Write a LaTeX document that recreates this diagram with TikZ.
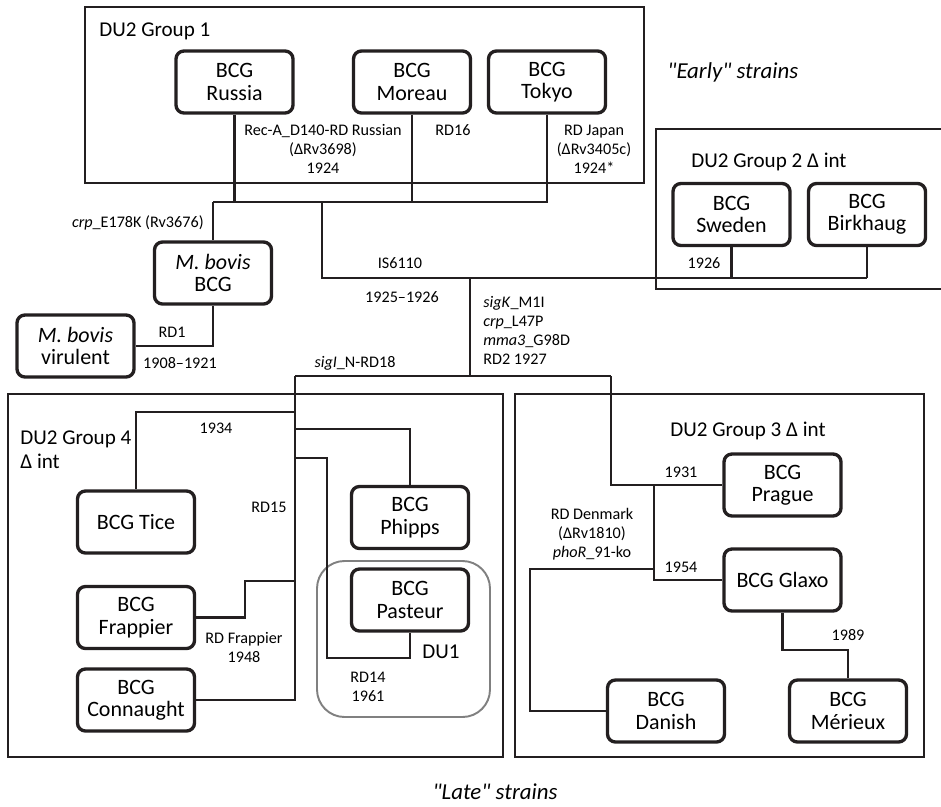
\documentclass[tikz,border=0pt]{standalone}
\usepackage{fontspec}
\setmainfont{Carlito}
\usepackage{tikz}
\pgfdeclarelayer{edgelayer}
\pgfdeclarelayer{nodelayer}
\pgfsetlayers{edgelayer,nodelayer,main}
\definecolor{ink}{RGB}{35,31,32}
\definecolor{du1gray}{RGB}{128,128,128}
\tikzstyle{edge}=[draw=ink, line width=1.6pt]
\tikzstyle{strain}=[rectangle, rounded corners=4.5pt, fill=white, draw=ink, line width=1.9pt, minimum width=2.34cm, minimum height=1.24cm, align=center, inner sep=1pt, font=\fontsize{12.5}{12.8}\selectfont]
\tikzstyle{group}=[draw=ink, line width=1.1pt]
\tikzstyle{note}=[align=center, inner sep=0pt, font=\fontsize{9.2}{10.8}\selectfont]
\tikzstyle{grouptitle}=[inner sep=0pt, font=\fontsize{12}{13.7}\selectfont]
\tikzstyle{era}=[inner sep=0pt, font=\fontsize{13}{15}\selectfont\itshape]

\begin{document}
\begin{tikzpicture}[x=0.02cm, y=-0.02cm]
			\useasboundingbox (0,0) rectangle (941,806);
			\begin{pgfonlayer}{nodelayer}
				\node [style=strain] (0) at (234.5, 82) {BCG\\Russia};
				\node [style=strain] (1) at (412, 82) {BCG\\Moreau};
				\node [style=strain] (2) at (547, 82) {BCG\\Tokyo};
				\node [style=strain] (3) at (213, 273) {\textit{M. bovis}\\BCG};
				\node [style=strain] (4) at (75.5, 346) {\textit{M. bovis}\\virulent};
				\node [style=strain] (5) at (731.5, 214.5) {BCG\\Sweden};
				\node [style=strain] (6) at (867, 214.5) {BCG\\Birkhaug};
				\node [style=strain] (7) at (136, 522) {BCG Tice};
				\node [style=strain] (8) at (136, 617.5) {BCG\\Frappier};
				\node [style=strain] (9) at (136, 700) {BCG\\Connaught};
				\node [style=strain] (10) at (410, 517.5) {BCG\\Phipps};
				\node [style=strain] (11) at (410, 600) {BCG\\Pasteur};
				\node [style=strain] (12) at (782.5, 485) {BCG\\Prague};
				\node [style=strain] (13) at (782.5, 580) {BCG Glaxo};
				\node [style=strain] (14) at (666, 711) {BCG\\Danish};
				\node [style=strain] (15) at (848, 711) {BCG\\Mérieux};
				% branch points
				\coordinate (r0) at (213, 202);
				\coordinate (r1) at (322, 202);
				\coordinate (r2) at (867, 278);
				\coordinate (r3) at (470, 278);
				\coordinate (r4) at (295, 376);
				\coordinate (r5) at (611, 376);
				\coordinate (t0) at (295, 412);
				\coordinate (t1) at (295, 429);
				\coordinate (t2) at (295, 458);
				\coordinate (t3) at (327, 658);
				\coordinate (t4) at (295, 581);
				\coordinate (t5) at (245, 617.5);
				\coordinate (u0) at (654, 485);
				\coordinate (u1) at (654, 569);
				\coordinate (u2) at (530, 711);
				\coordinate (u3) at (848, 650);
			\end{pgfonlayer}
			\begin{pgfonlayer}{edgelayer}
				% groups
				\draw [style=group] (85, 7) rectangle (644, 183);
				\draw [style=group] (950, 129) -- (656, 129) -- (656, 289) -- (950, 289);
				\draw [style=group] (8, 394) rectangle (503, 757);
				\draw [style=group] (515, 394) rectangle (924, 757);
				\draw [draw=du1gray, line width=1.1pt, rounded corners=0.55cm] (317, 561) rectangle (490, 717);
				% tree
				\draw [style=edge] (2) |- (r0);
				\draw [style=edge] (0) -- (0 |- r0);
				\draw [style=edge] (1) -- (1 |- r0);
				\draw [style=edge] (r0) -- (3);
				\draw [style=edge] (3) |- (4);
				\draw [style=edge] (r1) |- (r2);
				\draw [style=edge] (5) -- (5 |- r2);
				\draw [style=edge] (6) -- (r2);
				\draw [style=edge] (r3) -- (r3 |- r4);
				\draw [style=edge] (r4) -- (r5);
				\draw [style=edge] (r4) |- (9);
				\draw [style=edge] (t0) -| (7);
				\draw [style=edge] (t1) -| (10);
				\draw [style=edge] (t2) -| (t3) -| (11);
				\draw [style=edge] (t4) -| (t5) -- (8);
				\draw [style=edge] (r5) |- (12);
				\draw [style=edge] (u0) |- (13);
				\draw [style=edge] (u1) -| (u2) -- (14);
				\draw [style=edge] (13) |- (u3) -- (15);
			\end{pgfonlayer}
			% labels
			\node [style=grouptitle, anchor=base west] (g1) at (99, 36.5) {DU2 Group 1};
			\node [style=grouptitle, anchor=base west] (g2) at (691, 167.5) {DU2 Group 2 Δ int};
			\node [style=grouptitle, anchor=base] (g3) at (748, 436.5) {DU2 Group 3 Δ int};
			\node [style=grouptitle, anchor=base west] (g4) at (20, 444.5) {DU2 Group 4};
			\node [style=grouptitle, anchor=base west] (g4b) at (20, 468.5) {Δ int};
			\node [style=era, anchor=base west] (early) at (667, 78) {\textquotedbl Early\textquotedbl\ strains};
			\node [style=era, anchor=base] (late) at (495, 799) {\textquotedbl Late\textquotedbl\ strains};
			\node [style=note] (n0) at (323, 149) {Rec-A\_D140-RD Russian\\(ΔRv3698)\\1924};
			\node [style=note, anchor=base] (n1) at (453, 135) {RD16};
			\node [style=note] (n2) at (594, 149) {RD Japan\\(ΔRv3405c)\\1924*};
			\node [style=note, anchor=base east] (n3) at (204, 227) {\textit{crp}\_E178K (Rv3676)};
			\node [style=note, anchor=base] (n4) at (172, 337) {RD1};
			\node [style=note, anchor=base] (n5) at (180, 368) {1908–1921};
			\node [style=note, anchor=base] (n6) at (400, 268) {IS6110};
			\node [style=note, anchor=base] (n7) at (402, 302) {1925–1926};
			\node [style=note, anchor=base] (n8) at (704, 268) {1926};
			\node [style=note, align=left, anchor=north west] (n9) at (483, 296) {\textit{sigK}\_M1I\\\textit{crp}\_L47P\\\textit{mma3}\_G98D\\RD2 1927};
			\node [style=note, anchor=base] (n10) at (355, 367) {\textit{sigI}\_N-RD18};
			\node [style=note, anchor=base] (n11) at (216, 433) {1934};
			\node [style=note, anchor=base] (n12) at (269, 512) {RD15};
			\node [style=note] (n13) at (244, 647.5) {RD Frappier\\1948};
			\node [style=grouptitle, anchor=base] (n14) at (441, 658.5) {DU1};
			\node [style=note] (n15) at (368, 686.5) {RD14\\1961};
			\node [style=note, anchor=base] (n16) at (681, 477) {1931};
			\node [style=note, anchor=base] (n17) at (681, 572) {1954};
			\node [style=note, anchor=base] (n18) at (848, 640) {1989};
			\node [style=note] (n19) at (592, 534) {RD Denmark\\(ΔRv1810)\\\textit{phoR}\_91-ko};
		\end{tikzpicture}
\end{document}
